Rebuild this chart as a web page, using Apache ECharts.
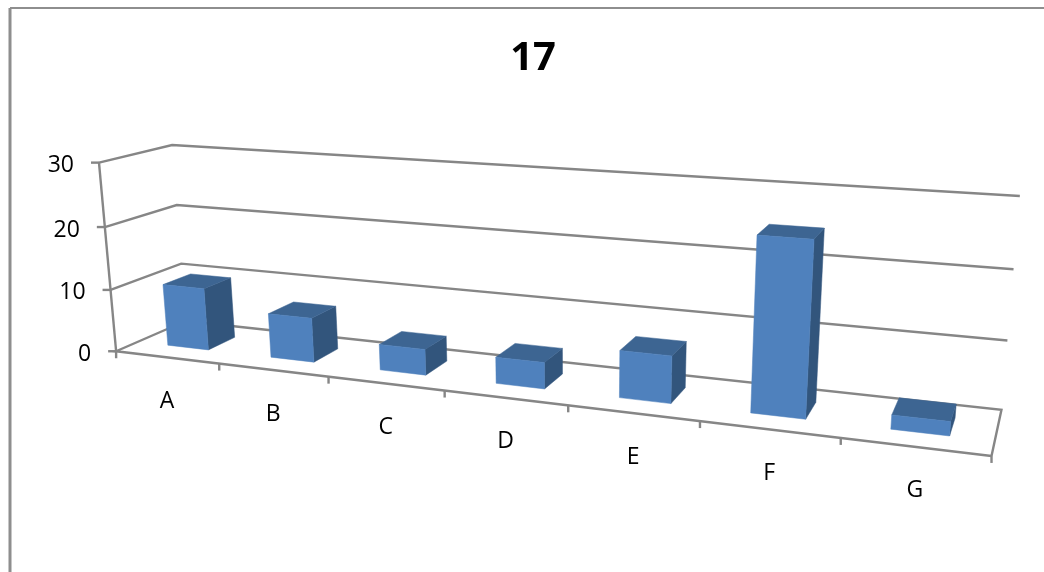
<!DOCTYPE html>
<html>
<head>
<meta charset="utf-8">
<style>html,body{margin:0;padding:0;background:#fff}#chart{width:1044px;height:572px}</style>
<script src="https://cdn.jsdelivr.net/npm/echarts@6/dist/echarts.min.js"></script>
</head>
<body>
<div id="chart"></div>
<script>
const chartTitle = '17';
const categories = ['A', 'B', 'C', 'D', 'E', 'F', 'G'];
const values = [10, 7, 4, 4, 7, 25, 2];
const valueTicks = [0, 10, 20, 30];
const valueMax = 30;

// Camera calibration: box position (category units, value, depth 0..1) -> canvas pixel.
const cameraAnchors = [
  [0, 0, 0, 116.5, 351], [0, 10, 0, 110, 290], [0, 20, 0, 105, 226.7], [0, 30, 0, 99, 162.7],
  [0, 10, 1, 181, 264], [0, 20, 1, 176.7, 205], [0, 30, 1, 172.3, 145],
  [7, 0, 0, 991.7, 456], [7, 0, 1, 1001.7, 409.3], [7, 10, 1, 1007.3, 340.7],
  [7, 20, 1, 1013.3, 269.3], [7, 30, 1, 1020, 196],
  [1, 0, 0, 219, 363.5], [2, 0, 0, 329, 376.5], [3, 0, 0, 445, 391],
  [4, 0, 0, 568, 405.5], [5, 0, 0, 699.5, 421], [6, 0, 0, 840.7, 438]
];

const GRID_COLOR = '#868686';
const FRONT_COLOR = '#4F81BD';
const SIDE_COLOR = '#32557C';
const TOP_COLOR = '#3D6592';
const LABEL_FONT = '"Open Sans", "Noto Sans", sans-serif';

// Least-squares fit of a 3x4 projective camera (p34 fixed to 1).
function fitCamera(anchors) {
  const n = 11;
  const A = Array.from({ length: n }, () => new Array(n + 1).fill(0));
  const add = (row, rhs) => {
    for (let i = 0; i < n; i++) {
      for (let j = 0; j < n; j++) A[i][j] += row[i] * row[j];
      A[i][n] += row[i] * rhs;
    }
  };
  anchors.forEach(([x, y, z, px, py]) => {
    const X = x / 7, Y = y / valueMax, Z = z, u = px / 1000, v = py / 1000;
    add([X, Y, Z, 1, 0, 0, 0, 0, -u * X, -u * Y, -u * Z], u);
    add([0, 0, 0, 0, X, Y, Z, 1, -v * X, -v * Y, -v * Z], v);
  });
  for (let c = 0; c < n; c++) {
    let best = c;
    for (let r = c + 1; r < n; r++) if (Math.abs(A[r][c]) > Math.abs(A[best][c])) best = r;
    [A[c], A[best]] = [A[best], A[c]];
    for (let r = 0; r < n; r++) {
      if (r === c) continue;
      const f = A[r][c] / A[c][c];
      for (let k = c; k <= n; k++) A[r][k] -= f * A[c][k];
    }
  }
  return A.map((row, i) => row[n] / row[i]);
}
const cam = fitCamera(cameraAnchors);

// x: 0..1 across the categories, y: 0..1 up the value range, z: 0..1 into the box.
function project(x, y, z) {
  const w = cam[8] * x + cam[9] * y + cam[10] * z + 1;
  return [
    1000 * (cam[0] * x + cam[1] * y + cam[2] * z + cam[3]) / w,
    1000 * (cam[4] * x + cam[5] * y + cam[6] * z + cam[7]) / w
  ];
}

// The hidden cartesian axes supply the scales; their output is normalised and projected.
function normalise(params, api, cat, val) {
  const sys = params.coordSys;
  const p = api.coord([cat, val]);
  return [(p[0] - sys.x) / sys.width, (sys.y + sys.height - p[1]) / sys.height];
}

const strokeLine = (points) => ({
  type: 'polyline',
  shape: { points },
  style: { fill: null, stroke: GRID_COLOR, lineWidth: 2.4 }
});
const label = (text, x, y, align) => ({
  type: 'text',
  style: { text, x, y, align, verticalAlign: 'middle', font: '23px ' + LABEL_FONT, fill: '#000' }
});

function renderValueLevel(params, api) {
  const tick = api.value(0);
  const yy = normalise(params, api, 0, tick)[1];
  const front = project(0, yy, 0), back = project(0, yy, 1), right = project(1, yy, 1);
  const children = [
    strokeLine([[front[0] - 8, front[1]], front]),
    label(String(tick), front[0] - 25, front[1] + 3, 'right')
  ];
  if (tick > 0) children.push(strokeLine([front, back, right]));
  return { type: 'group', children };
}

function renderFloor(params, api) {
  const fl = project(0, 0, 0), fr = project(1, 0, 0), bl = project(0, 0, 1), br = project(1, 0, 1);
  const top = project(0, 1, 0);
  return {
    type: 'group',
    children: [
      strokeLine([bl, br, fr]),
      strokeLine([bl, fl, fr]),
      strokeLine([top, fl])
    ]
  };
}

function renderCategoryMark(params, api) {
  const idx = api.value(0);
  const band = api.size([1, 0])[0] / params.coordSys.width;
  const cx = normalise(params, api, idx, 0)[0];
  const edge = project(cx + band / 2, 0, 0);
  const mid = project(cx, 0, 0);
  const children = [
    strokeLine([edge, [edge[0], edge[1] + 7]]),
    label(categories[idx], mid[0], mid[1] + 44, 'center')
  ];
  if (idx === 0) {
    const start = project(cx - band / 2, 0, 0);
    children.push(strokeLine([start, [start[0], start[1] + 7]]));
  }
  return { type: 'group', children };
}

function renderBar(params, api) {
  const idx = api.value(0);
  const band = api.size([1, 0])[0] / params.coordSys.width;
  const [cx, h] = normalise(params, api, idx, api.value(1));
  const x0 = cx - band * 0.2, x1 = cx + band * 0.2, z0 = 0.3, z1 = 0.7;
  const face = (pts, fill) => ({
    type: 'polygon',
    shape: { points: pts.map(p => project(p[0], p[1], p[2])) },
    style: { fill, stroke: fill, lineWidth: 0.5 }
  });
  return {
    type: 'group',
    children: [
      face([[x1, 0, z0], [x1, 0, z1], [x1, h, z1], [x1, h, z0]], SIDE_COLOR),
      face([[x0, h, z0], [x1, h, z0], [x1, h, z1], [x0, h, z1]], TOP_COLOR),
      face([[x0, 0, z0], [x1, 0, z0], [x1, h, z0], [x0, h, z0]], FRONT_COLOR)
    ]
  };
}

const chart = echarts.init(document.getElementById('chart'));
chart.setOption({
  animation: false,
  backgroundColor: '#ffffff',
  title: {
    text: chartTitle,
    left: 528,
    top: 34,
    textAlign: 'center',
    textStyle: { fontFamily: LABEL_FONT, fontWeight: 'bold', fontSize: 40, color: '#000' }
  },
  grid: { left: 0, right: 0, top: 0, bottom: 0 },
  xAxis: { type: 'category', data: categories, show: false },
  yAxis: { type: 'value', min: 0, max: valueMax, interval: 10, show: false },
  graphic: [
    { type: 'line', silent: true, shape: { x1: 10, y1: 8, x2: 1044, y2: 8 }, style: { stroke: '#8E8E8E', lineWidth: 2 } },
    { type: 'line', silent: true, shape: { x1: 10, y1: 8, x2: 10, y2: 572 }, style: { stroke: '#8E8E8E', lineWidth: 3 } }
  ],
  series: [
    { type: 'custom', coordinateSystem: 'cartesian2d', silent: true, z: 1, clip: false,
      data: [[0, 0]], renderItem: renderFloor },
    { type: 'custom', coordinateSystem: 'cartesian2d', silent: true, z: 2, clip: false,
      data: valueTicks.map(t => [t]), encode: { x: -1, y: 0 }, renderItem: renderValueLevel },
    { type: 'custom', coordinateSystem: 'cartesian2d', silent: true, z: 3, clip: false,
      data: categories.map((c, i) => [i]), encode: { x: 0, y: -1 }, renderItem: renderCategoryMark },
    { type: 'custom', coordinateSystem: 'cartesian2d', silent: true, z: 4, clip: false,
      data: values.map((v, i) => [i, v]), encode: { x: 0, y: 1 }, renderItem: renderBar }
  ]
});
</script>
</body>
</html>
